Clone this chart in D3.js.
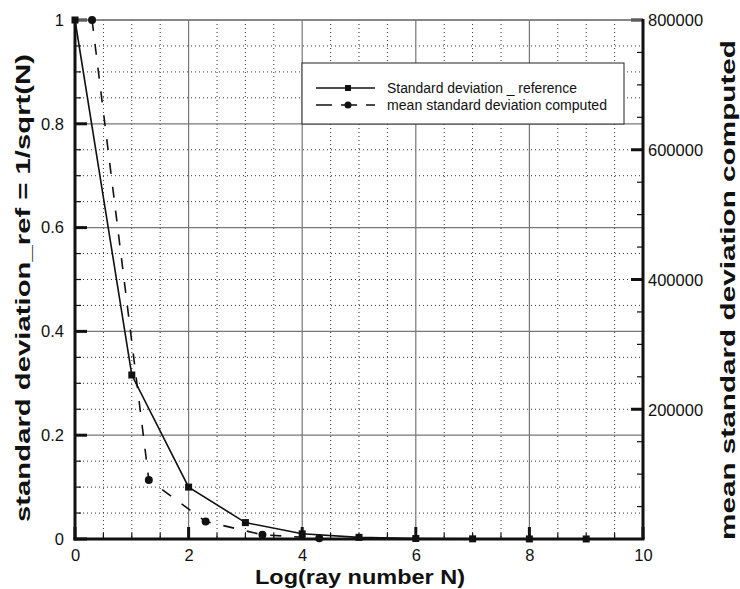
<!DOCTYPE html>
<html>
<head>
<meta charset="utf-8">
<script src="https://cdn.jsdelivr.net/npm/d3@7"></script>
<style>
html,body{margin:0;padding:0;background:#fff;}
svg{display:block;font-family:"Liberation Sans",Arial,sans-serif;}
</style>
</head>
<body>
<svg id="chart" width="740" height="589"></svg>
<script>
// ---- data ----
const refX = [0, 1, 2, 3, 4, 5, 6, 7, 8, 9];
const refY = [1, 0.316, 0.1, 0.0316, 0.01, 0.00316, 0.001, 0.000316, 0.0001, 0.0000316];
const compX = [0.3, 1.3, 2.3, 3.3, 4.3];
const compY = [800000, 91000, 27000, 6500, 1200];
const xTicks = [0, 2, 4, 6, 8, 10];
const yTicks = [0, 0.2, 0.4, 0.6, 0.8, 1];
const y2Ticks = [200000, 400000, 600000, 800000];
const legendLabels = ["Standard deviation _ reference", "mean standard deviation computed"];
const xTitle = "Log(ray number N)";
const yTitle = "standard deviation_ref = 1/sqrt(N)";
const y2Title = "mean standard deviation computed";

// ---- layout ----
const L = 75, R = 643, T = 20, B = 539;
const svg = d3.select("#chart");
const x = d3.scaleLinear().domain([0, 10]).range([L, R]);
const y = d3.scaleLinear().domain([0, 1]).range([B, T]);
const y2 = d3.scaleLinear().domain([0, 800000]).range([B, T]);

const minorX = d3.range(0, 10.001, 0.5).filter(v => Math.abs(v / 2 - Math.round(v / 2)) > 1e-6);
const minorY = d3.range(0, 1.0001, 0.05).filter(v => Math.abs(v / 0.2 - Math.round(v / 0.2)) > 1e-6);
const minorY2 = d3.range(0, 800001, 50000).filter(v => v % 200000 !== 0);

// grid minor (dotted)
const g = svg.append("g");
g.selectAll(".mgx").data(minorX).join("line")
  .attr("x1", d => x(d)).attr("x2", d => x(d)).attr("y1", T).attr("y2", B)
  .attr("stroke", "#333").attr("stroke-width", 1).attr("stroke-dasharray", "1,3");
g.selectAll(".mgy").data(minorY).join("line")
  .attr("x1", L).attr("x2", R).attr("y1", d => y(d)).attr("y2", d => y(d))
  .attr("stroke", "#333").attr("stroke-width", 1).attr("stroke-dasharray", "1,3");
// grid major (solid gray)
g.selectAll(".Mgx").data(xTicks.filter(d => d > 0 && d < 10)).join("line")
  .attr("x1", d => x(d)).attr("x2", d => x(d)).attr("y1", T).attr("y2", B)
  .attr("stroke", "#777").attr("stroke-width", 1.2);
g.selectAll(".Mgy").data(yTicks.filter(d => d > 0)).join("line")
  .attr("x1", L).attr("x2", R).attr("y1", d => y(d)).attr("y2", d => y(d))
  .attr("stroke", "#777").attr("stroke-width", 1.2);

// axes
const axL = d3.axisLeft(y).tickValues(yTicks).tickSize(0).tickPadding(11)
  .tickFormat(d => d3.format("~g")(d));
const axB = d3.axisBottom(x).tickValues(xTicks).tickSize(0).tickPadding(10);
const axR = d3.axisRight(y2).tickValues(y2Ticks).tickSize(0).tickPadding(5).tickFormat(d => d);

function styleAxis(sel) {
  sel.select(".domain").remove();
  sel.selectAll("text").attr("font-size", 16.5).attr("fill", "#111")
    .attr("font-family", "'Liberation Sans', Arial, sans-serif");
}
svg.append("g").attr("transform", `translate(${L},0)`).call(axL).call(styleAxis);
svg.append("g").attr("transform", `translate(0,${B})`).call(axB).call(styleAxis);
svg.append("g").attr("transform", `translate(${R},0)`).call(axR).call(styleAxis)
  .selectAll("text").attr("dy", "0.35em");

// inward ticks
const tk = svg.append("g").attr("stroke", "#111");
tk.selectAll(".tl").data(yTicks).join("line")
  .attr("x1", L).attr("x2", L + 12).attr("y1", d => y(d)).attr("y2", d => y(d)).attr("stroke-width", 3);
tk.selectAll(".tlm").data(minorY).join("line")
  .attr("x1", L).attr("x2", L + 6).attr("y1", d => y(d)).attr("y2", d => y(d)).attr("stroke-width", 1.2);
tk.selectAll(".tb").data(xTicks).join("line")
  .attr("x1", d => x(d)).attr("x2", d => x(d)).attr("y1", B).attr("y2", B - 12).attr("stroke-width", 3);
tk.selectAll(".tbm").data(minorX).join("line")
  .attr("x1", d => x(d)).attr("x2", d => x(d)).attr("y1", B).attr("y2", B - 6).attr("stroke-width", 1.2);
tk.selectAll(".tr").data(y2Ticks).join("line")
  .attr("x1", R).attr("x2", R - 12).attr("y1", d => y2(d)).attr("y2", d => y2(d)).attr("stroke-width", 3);
tk.selectAll(".trm").data(minorY2).join("line")
  .attr("x1", R).attr("x2", R - 6).attr("y1", d => y2(d)).attr("y2", d => y2(d)).attr("stroke-width", 1.2);

// frame
svg.append("line").attr("x1", L).attr("x2", R).attr("y1", T).attr("y2", T).attr("stroke", "#777").attr("stroke-width", 1.5);
svg.append("line").attr("x1", L).attr("x2", L).attr("y1", T).attr("y2", B + 1.5).attr("stroke", "#111").attr("stroke-width", 3);
svg.append("line").attr("x1", L - 1.5).attr("x2", R + 1.5).attr("y1", B).attr("y2", B).attr("stroke", "#111").attr("stroke-width", 3);
svg.append("line").attr("x1", R).attr("x2", R).attr("y1", T - 1).attr("y2", B).attr("stroke", "#111").attr("stroke-width", 3);

// series
const refData = refX.map((d, i) => [d, refY[i]]);
const compData = compX.map((d, i) => [d, compY[i]]);
const plot = svg.append("g");
plot.append("path").datum(refData)
  .attr("d", d3.line().x(d => x(d[0])).y(d => y(d[1])))
  .attr("fill", "none").attr("stroke", "#111").attr("stroke-width", 1.6);
plot.selectAll(".sq").data(refData).join("rect")
  .attr("x", d => x(d[0]) - 3.5).attr("y", d => y(d[1]) - 3.5)
  .attr("width", 7).attr("height", 7).attr("fill", "#111");
plot.append("path").datum(compData)
  .attr("d", d3.line().x(d => x(d[0])).y(d => y2(d[1])))
  .attr("fill", "none").attr("stroke", "#111").attr("stroke-width", 1.6)
  .attr("stroke-dasharray", "11,13");
plot.selectAll(".ci").data(compData).join("circle")
  .attr("cx", d => x(d[0])).attr("cy", d => y2(d[1])).attr("r", 4).attr("fill", "#111");

// legend
const lg = svg.append("g").attr("transform", "translate(302,63)");
lg.append("rect").attr("width", 322).attr("height", 61).attr("fill", "#fff").attr("stroke", "#222").attr("stroke-width", 1);
const items = lg.selectAll(".it").data(legendLabels).join("g")
  .attr("transform", (d, i) => `translate(0,${25 + i * 17})`);
items.append("line").attr("x1", 14).attr("x2", 73).attr("stroke", "#111").attr("stroke-width", 1.6)
  .attr("stroke-dasharray", (d, i) => i === 0 ? null : "16,9");
items.each(function (d, i) {
  const s = d3.select(this);
  if (i === 0) s.append("rect").attr("x", 43).attr("y", -3).attr("width", 6).attr("height", 6).attr("fill", "#111");
  else s.append("circle").attr("cx", 46).attr("cy", 0).attr("r", 3.5).attr("fill", "#111");
});
items.append("text").attr("x", 85).attr("dy", "0.35em").attr("font-size", 14).attr("fill", "#111")
  .attr("textLength", (d, i) => i === 0 ? 190 : 220).attr("lengthAdjust", "spacingAndGlyphs")
  .text(d => d);

// titles
svg.append("text").attr("x", 360).attr("y", 584).attr("text-anchor", "middle")
  .attr("font-size", 21).attr("font-weight", "bold").attr("fill", "#111")
  .attr("textLength", 210).attr("lengthAdjust", "spacingAndGlyphs").text(xTitle);
svg.append("text").attr("transform", "translate(30,288) rotate(-90)").attr("text-anchor", "middle")
  .attr("font-size", 21).attr("font-weight", "bold").attr("fill", "#111")
  .attr("textLength", 468).attr("lengthAdjust", "spacingAndGlyphs").text(yTitle);
svg.append("text").attr("transform", "translate(735,290) rotate(-90)").attr("text-anchor", "middle")
  .attr("font-size", 21).attr("font-weight", "bold").attr("fill", "#111")
  .attr("textLength", 500).attr("lengthAdjust", "spacingAndGlyphs").text(y2Title);
</script>
</body>
</html>
